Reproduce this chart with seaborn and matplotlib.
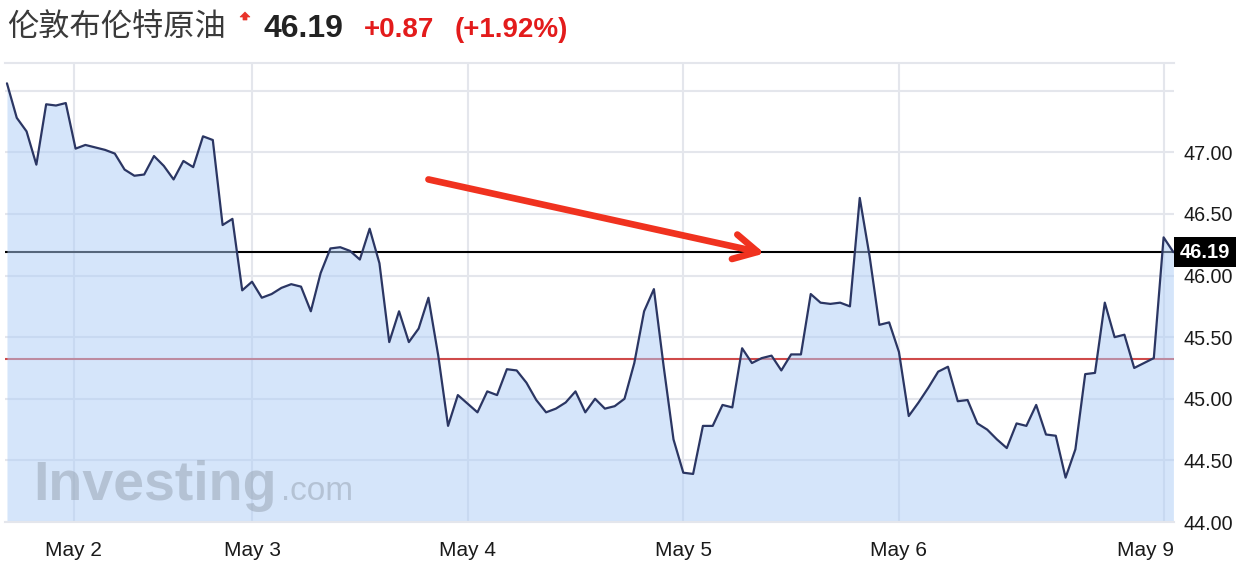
import numpy as np
import pandas as pd
import matplotlib
matplotlib.use("Agg")
import matplotlib.pyplot as plt
import matplotlib.transforms as mtransforms
from matplotlib.patches import Polygon
import seaborn as sns

# ---------------- data ----------------
prices = [
    47.56, 47.28, 47.17, 46.90, 47.39, 47.38, 47.40, 47.03, 47.06, 47.04,
    47.02, 46.99, 46.86, 46.81, 46.82, 46.97, 46.89, 46.78, 46.93, 46.88,
    47.13, 47.10, 46.41, 46.46, 45.88, 45.95, 45.82, 45.85, 45.90, 45.93,
    45.91, 45.71, 46.02, 46.22, 46.23, 46.20, 46.13, 46.38, 46.10, 45.46,
    45.71, 45.46, 45.57, 45.82, 45.35, 44.78, 45.03, 44.96, 44.89, 45.06,
    45.03, 45.24, 45.23, 45.13, 44.99, 44.89, 44.92, 44.97, 45.06, 44.89,
    45.00, 44.92, 44.94, 45.00, 45.29, 45.71, 45.89, 45.26, 44.67, 44.40,
    44.39, 44.78, 44.78, 44.95, 44.93, 45.41, 45.29, 45.33, 45.35, 45.23,
    45.36, 45.36, 45.85, 45.78, 45.77, 45.78, 45.75, 46.63, 46.16, 45.60,
    45.62, 45.38, 44.86, 44.97, 45.09, 45.22, 45.26, 44.98, 44.99, 44.80,
    44.75, 44.67, 44.60, 44.80, 44.78, 44.95, 44.71, 44.70, 44.36, 44.59,
    45.20, 45.21, 45.78, 45.50, 45.52, 45.25, 45.29, 45.33, 46.31, 46.19,
]
date_labels = ["May 2", "May 3", "May 4", "May 5", "May 6", "May 9"]
date_positions = [6.8, 25.0, 47.0, 69.0, 91.0, 118.0]
y_ticks = [44.0, 44.5, 45.0, 45.5, 46.0, 46.5, 47.0, 47.5]
y_labels = ["44.00", "44.50", "45.00", "45.50", "46.00", "46.50", "47.00", ""]
last_price = 46.19
prev_close = 45.32
title_name = "伦敦布伦特原油"
title_price = "46.19"
title_change = "+0.87"
title_pct = "(+1.92%)"
arrow_from = (43.0, 46.78)
arrow_to = (77.3, 46.18)

df = pd.DataFrame({"idx": np.arange(len(prices)), "price": prices})

# ---------------- style ----------------
sns.set_theme(style="white")
plt.rcParams["font.family"] = ["Liberation Sans", "Noto Sans CJK SC", "DejaVu Sans"]

W, H = 1240, 570
fig = plt.figure(figsize=(W / 100, H / 100), dpi=100)
fig.patch.set_facecolor("white")
ax = fig.add_axes([5 / W, 1 - 522 / H, (1174 - 5) / W, (522 - 63) / H])
ax.set_facecolor("white")

grid_c = "#e4e6ec"
for yv in y_ticks:
    ax.axhline(yv, color=grid_c, lw=1.5, zorder=0)
for xv in date_positions:
    ax.axvline(xv, color=grid_c, lw=1.5, zorder=0)

ax.axhline(prev_close, color="#cf4a4a", lw=1.5, zorder=1)
ax.axhline(last_price, color="black", lw=1.5, zorder=1)

ax.fill_between(df["idx"], df["price"], 44.0, color=(173 / 255, 205 / 255, 247 / 255),
                alpha=0.5, lw=0, zorder=2)
sns.lineplot(data=df, x="idx", y="price", ax=ax, color="#2b3663", lw=1.6, zorder=3)

ax.set_xlim(-0.2, 119.06)
ax.set_ylim(44.0, 47.725)
ax.set_xlabel("")
ax.set_ylabel("")

ax.yaxis.tick_right()
ax.set_yticks(y_ticks)
ax.set_yticklabels(y_labels)
ax.set_xticks(date_positions)
ax.set_xticklabels(date_labels)
ax.tick_params(axis="y", length=0, pad=7, labelsize=14.2, labelcolor="#1a1a1a")
ax.tick_params(axis="x", length=0, pad=14, labelsize=15, labelcolor="#1a1a1a")
# shift last date label to stay inside plot, like the original
lbl = ax.get_xticklabels()[-1]
lbl.set_transform(lbl.get_transform() + mtransforms.ScaledTranslation(-0.18, 0, fig.dpi_scale_trans))

for side in ["left", "right"]:
    ax.spines[side].set_visible(False)
for side in ["top", "bottom"]:
    ax.spines[side].set_color(grid_c)
    ax.spines[side].set_linewidth(1.5)

# price tag on the right
ax.annotate(f"{last_price:.2f}", xy=(1, last_price), xycoords=("axes fraction", "data"),
            xytext=(6, 0), textcoords="offset pixels", ha="left", va="center",
            fontsize=14.5, fontweight="bold", color="white", zorder=10,
            bbox=dict(boxstyle="square,pad=0.28", fc="black", ec="none"),
            annotation_clip=False)

# red arrow annotation
ax.annotate("", xy=arrow_to, xytext=arrow_from,
            arrowprops=dict(arrowstyle="->,head_length=0.85,head_width=0.45",
                            color="#f0321f", lw=4.8, shrinkA=0, shrinkB=0,
                            mutation_scale=20, capstyle="round", joinstyle="round"),
            zorder=8)

# watermark
ax.text(0.024, 0.048, "Investing", transform=ax.transAxes, fontsize=40, fontweight="bold",
        color="#9aa6b6", alpha=0.55, va="baseline", ha="left", zorder=4)
ax.text(0.236, 0.048, ".com", transform=ax.transAxes, fontsize=24,
        color="#9aa6b6", alpha=0.55, va="baseline", ha="left", zorder=4)

# title row
base_y = 1 - 37 / H
fig.text(7 / W, base_y, title_name, fontsize=22.5, color="#3a3a3a", va="baseline", ha="left",
         family=["Noto Sans CJK SC", "DejaVu Sans"])
icon_px = [(240, 17), (245, 12), (250, 17), (247, 17), (247, 20), (243, 20), (243, 17)]
fig.patches.append(Polygon([(px / W, 1 - py / H) for px, py in icon_px], closed=True,
                           transform=fig.transFigure, fc="#e8332a", ec="#e8332a", lw=0.5))
fig.text(263 / W, base_y, title_price, fontsize=23, fontweight="bold", color="#222222",
         va="baseline", ha="left")
fig.text(364 / W, base_y, title_change, fontsize=20, fontweight="bold", color="#e31b1b",
         va="baseline", ha="left")
fig.text(455 / W, base_y, title_pct, fontsize=20, fontweight="bold", color="#e31b1b",
         va="baseline", ha="left")

fig.savefig("out.png", dpi=100, facecolor="white")
